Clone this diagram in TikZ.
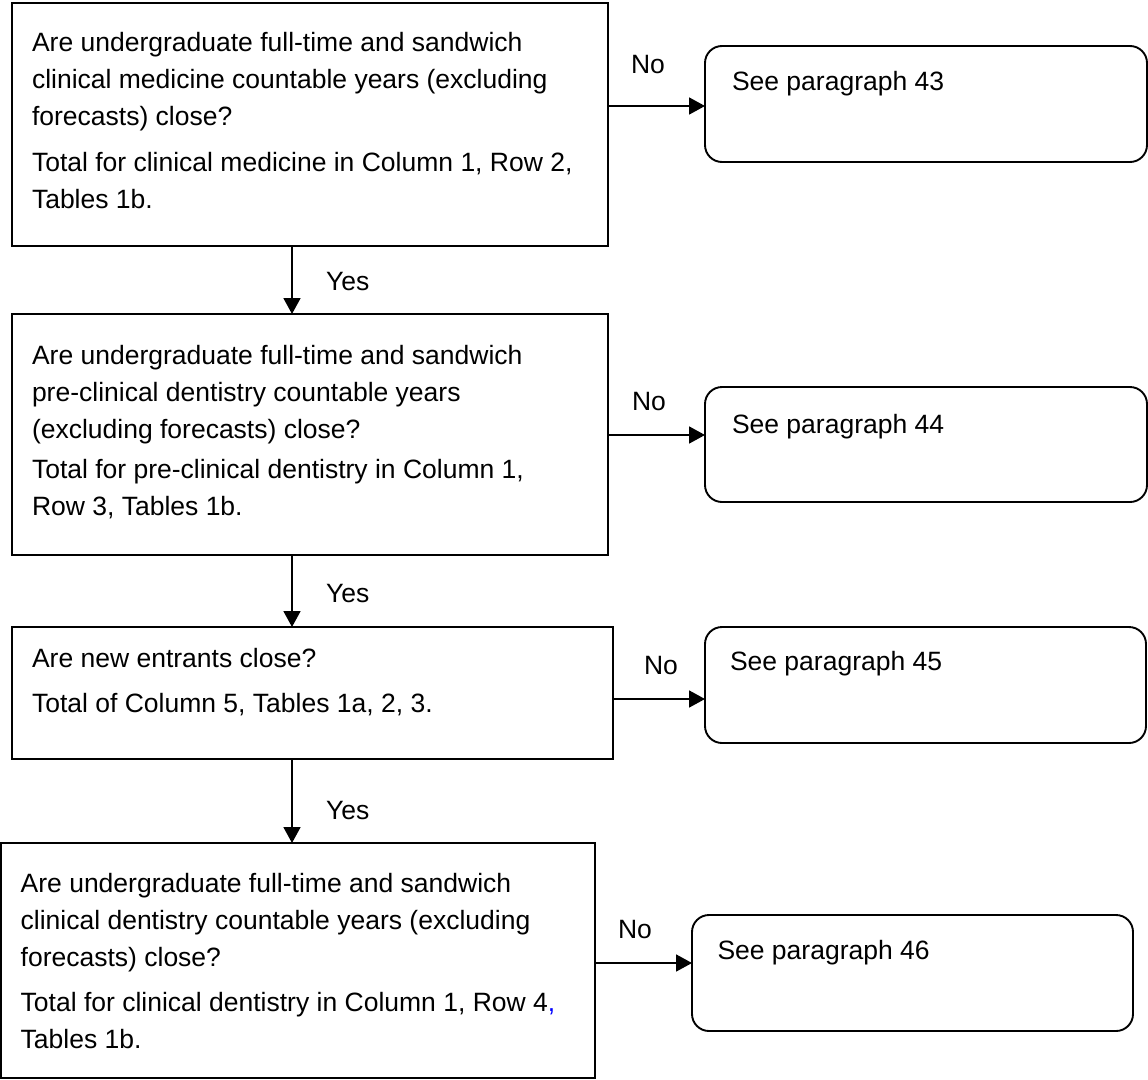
\documentclass[tikz,border=0pt]{standalone}
\usepackage{fontspec}
\setmainfont{Liberation Sans}
\usetikzlibrary{arrows.meta}
\begin{document}
\begin{tikzpicture}[x=1pt,y=-1pt,
  qbox/.style={draw, line width=1.9pt, rectangle, inner sep=0pt, outer sep=0pt, anchor=north west},
  abox/.style={draw, line width=1.9pt, rectangle, rounded corners=17pt, inner sep=0pt, outer sep=0pt, anchor=north west},
  txt/.style={inner sep=0pt, outer sep=0pt, anchor=base west, font=\fontsize{26.5}{37}\selectfont},
  arr/.style={line width=1.8pt, -{Triangle[length=16pt,width=17pt]}}]
\useasboundingbox[fill=white] (0,0) rectangle (1148,1079);

% question boxes
\node[qbox, minimum width=596pt, minimum height=243pt] (b1) at (12,3) {};
\node[qbox, minimum width=596pt, minimum height=241pt] (b2) at (12,314) {};
\node[qbox, minimum width=601pt, minimum height=132pt] (b3) at (12,627) {};
\node[qbox, minimum width=594pt, minimum height=235pt] (b4) at (1,843) {};

% answer boxes
\node[abox, minimum width=442pt, minimum height=116pt] (r1) at (705,46) {};
\node[abox, minimum width=442pt, minimum height=115pt] (r2) at (705,387) {};
\node[abox, minimum width=441pt, minimum height=116pt] (r3) at (705,627) {};
\node[abox, minimum width=441pt, minimum height=116pt] (r4) at (692,915) {};

% question texts
\node[txt] (t1) at (32,51.7) {\parbox[t]{585pt}{\raggedright
Are undergraduate full-time and sandwich\\
clinical medicine countable years (excluding\\
forecasts) close?\\[8.7pt]
Total for clinical medicine in Column 1, Row 2,\\
Tables 1b.}};
\node[txt] (t2) at (32,364.3) {\parbox[t]{585pt}{\raggedright
Are undergraduate full-time and sandwich\\
pre-clinical dentistry countable years\\
(excluding forecasts) close?\\[3.5pt]
Total for pre-clinical dentistry in Column 1,\\
Row 3, Tables 1b.}};
\node[txt] (t3) at (32,667.7) {\parbox[t]{585pt}{\raggedright
Are new entrants close?\\[8pt]
Total of Column 5, Tables 1a, 2, 3.}};
\node[txt] (t4) at (20.7,892.7) {\parbox[t]{585pt}{\raggedright
Are undergraduate full-time and sandwich\\
clinical dentistry countable years (excluding\\
forecasts) close?\\[8pt]
Total for clinical dentistry in Column 1, Row 4\textcolor{blue}{,}\\
Tables 1b.}};

% answer texts
\node[txt] (s1) at (732,90.7) {See paragraph 43};
\node[txt] (s2) at (732,433) {See paragraph 44};
\node[txt] (s3) at (730,670.6) {See paragraph 45};
\node[txt] (s4) at (717.5,959) {See paragraph 46};

% vertical connectors
\coordinate (ax) at (292,0);
\draw[arr] (b1.south -| ax) -- (b2.north -| ax);
\draw[arr] (b2.south -| ax) -- (b3.north -| ax);
\draw[arr] (b3.south -| ax) -- (b4.north -| ax);
\node[txt] (y1) at (326,290) {Yes};
\node[txt] (y2) at (326,602) {Yes};
\node[txt] (y3) at (326,819.3) {Yes};

% horizontal connectors
\coordinate (h1) at (0,106);
\coordinate (h2) at (0,435);
\coordinate (h3) at (0,699);
\coordinate (h4) at (0,963);
\draw[arr] (b1.east |- h1) -- (r1.west |- h1);
\draw[arr] (b2.east |- h2) -- (r2.west |- h2);
\draw[arr] (b3.east |- h3) -- (r3.west |- h3);
\draw[arr] (b4.east |- h4) -- (r4.west |- h4);
\node[txt] (n1) at (631,73) {No};
\node[txt] (n2) at (632,410) {No};
\node[txt] (n3) at (644,674) {No};
\node[txt] (n4) at (618,938) {No};
\end{tikzpicture}
\end{document}
